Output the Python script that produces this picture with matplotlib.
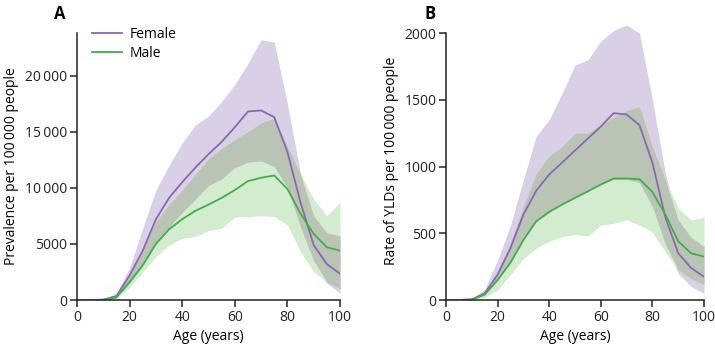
"""Prevalence and YLD rate by age and sex, two panels."""

import matplotlib
matplotlib.use("Agg")
import matplotlib.pyplot as plt
import numpy as np

ages = [0, 5, 10, 15, 20, 25, 30, 35, 40, 45, 50, 55, 60, 65, 70, 75, 80, 85, 90, 95, 100]

# Panel A: prevalence per 100 000
prev_female = [0, 0, 30, 350, 2200, 4400, 7200, 9100, 10500, 11800, 13000, 14100, 15400,
               16800, 16900, 16300, 13200, 8700, 4900, 3200, 2350]
prev_female_lo = [0, 0, 0, 200, 1500, 3100, 5000, 6500, 7800, 9000, 10200, 10800, 11800,
                  12300, 12400, 11900, 10000, 6500, 3500, 1500, 600]
prev_female_hi = [0, 0, 60, 600, 2900, 6400, 9800, 12000, 14000, 15600, 16400, 17700, 19200,
                  21100, 23200, 23000, 17500, 11300, 7500, 6000, 5700]
prev_male = [0, 0, 20, 250, 1600, 3100, 5000, 6300, 7200, 7950, 8500, 9100, 9800,
             10600, 10900, 11100, 9900, 7700, 5900, 4700, 4400]
prev_male_lo = [0, 0, 0, 150, 1100, 2500, 3850, 4900, 5500, 5650, 6200, 6400, 7400,
                7450, 7500, 7450, 6700, 4300, 2500, 1600, 1000]
prev_male_hi = [0, 0, 40, 500, 2300, 4500, 7000, 8500, 9800, 11200, 12600, 13500, 14300,
                15000, 15800, 16200, 13700, 11200, 9000, 7500, 8700]

# Panel B: YLDs per 100 000
yld_female = [0, 0, 5, 50, 190, 390, 640, 820, 940, 1030, 1120, 1210, 1300,
              1400, 1390, 1310, 1030, 620, 350, 240, 175]
yld_female_lo = [0, 0, 0, 40, 150, 280, 450, 590, 660, 715, 765, 815, 865,
                 905, 905, 880, 700, 420, 200, 100, 50]
yld_female_hi = [0, 0, 10, 80, 300, 560, 900, 1230, 1350, 1550, 1760, 1800, 1940,
                 2020, 2060, 2000, 1500, 950, 600, 470, 400]
yld_male = [0, 0, 3, 40, 150, 280, 450, 590, 660, 715, 765, 815, 865,
            910, 910, 905, 810, 640, 440, 350, 325]
yld_male_lo = [0, 0, 0, 20, 75, 190, 310, 390, 440, 475, 490, 480, 560,
               575, 600, 560, 510, 360, 225, 160, 115]
yld_male_hi = [0, 0, 8, 60, 210, 430, 700, 950, 1080, 1150, 1250, 1250, 1310,
               1370, 1420, 1450, 1150, 900, 690, 600, 620]

FEMALE_LINE = "#8a68b3"
MALE_LINE = "#43ad4a"
FEMALE_FILL = "#d9cfe6"
MALE_FILL = "#d3ebcf"
OVERLAP_FILL = "#bac4b5"

plt.rcParams["font.family"] = ["Open Sans", "DejaVu Sans"]
plt.rcParams["font.size"] = 10


def draw_panel(ax, f, f_lo, f_hi, m, m_lo, m_hi):
    x = np.array(ages)
    f_lo, f_hi = np.array(f_lo), np.array(f_hi)
    m_lo, m_hi = np.array(m_lo), np.array(m_hi)
    ax.fill_between(x, f_lo, f_hi, color=FEMALE_FILL, lw=0, clip_on=False)
    ax.fill_between(x, m_lo, m_hi, color=MALE_FILL, lw=0)
    lo = np.maximum(f_lo, m_lo)
    hi = np.minimum(f_hi, m_hi)
    ax.fill_between(x, lo, hi, where=hi > lo, interpolate=True, color=OVERLAP_FILL, lw=0)
    ax.plot(x, f, color=FEMALE_LINE, lw=1.3, label="Female")
    ax.plot(x, m, color=MALE_LINE, lw=1.3, label="Male")

    ax.set_xlim(0, 100)
    ax.set_xticks(range(0, 101, 20))
    ax.set_xlabel("Age (years)", labelpad=3)
    for side in ("top", "right"):
        ax.spines[side].set_visible(False)
    for side in ("left", "bottom"):
        ax.spines[side].set_linewidth(1.1)
        ax.spines[side].set_color("#222222")
    ax.tick_params(direction="out", length=5, width=1.1, color="#222222",
                   labelcolor="#222222", pad=2)


fig = plt.figure(figsize=(7.15, 3.49), dpi=100)
ax_a = fig.add_axes([0.1077, 0.1404, 0.3678, 0.765])
ax_b = fig.add_axes([0.6238, 0.1404, 0.3608, 0.7955])

draw_panel(ax_a, prev_female, prev_female_lo, prev_female_hi, prev_male, prev_male_lo, prev_male_hi)
ax_a.set_ylim(0, 23800)
ax_a.set_yticks([0, 5000, 10000, 15000, 20000])
ax_a.set_yticklabels(["0", "5000", "10\u2009000", "15\u2009000", "20\u2009000"])
ax_a.set_ylabel("Prevalence per 100\u2009000 people", labelpad=4)
ax_a.legend(loc="upper left", bbox_to_anchor=(0.035, 1.045), frameon=False,
            handlelength=2.2, handletextpad=0.5, labelspacing=0.3, borderaxespad=0)
fig.text(0.084, 0.985, "A", fontsize=12, fontweight="bold", ha="center", va="top")

draw_panel(ax_b, yld_female, yld_female_lo, yld_female_hi, yld_male, yld_male_lo, yld_male_hi)
ax_b.set_ylim(0, 2080)
ax_b.spines["left"].set_bounds(0, 2000)
ax_b.set_yticks([0, 500, 1000, 1500, 2000])
ax_b.set_ylabel("Rate of YLDs per 100\u2009000 people", labelpad=4)
fig.text(0.601, 0.985, "B", fontsize=12, fontweight="bold", ha="center", va="top")

fig.savefig("out.png", dpi=100)
